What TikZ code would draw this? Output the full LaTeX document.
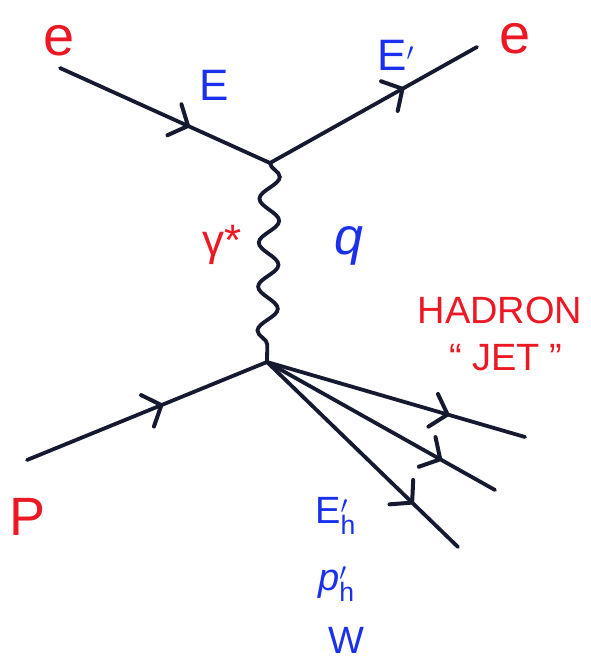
\documentclass[tikz,border=0pt]{standalone}
\usepackage{fontspec}
\setmainfont{Liberation Sans}
\usepackage{tikz}
\usetikzlibrary{arrows.meta, decorations.markings, decorations.pathmorphing}

\definecolor{ink}{RGB}{22,26,48}
\definecolor{penred}{RGB}{236,24,36}
\definecolor{penblue}{RGB}{26,48,236}

\begin{document}
\begin{tikzpicture}[
    x=1pt, y=-1pt,
    line/.style={
        line width=3.8pt,
        draw=ink,
        line cap=round
    },
    fermion/.style={
        line,
        postaction={decorate},
        decoration={
            markings,
            mark=at position #1 with {\draw[ink, line width=4pt, line cap=round, line join=miter] (-15pt,17pt) -- (0pt,0pt) -- (-15pt,-17pt);}
        }
    },
    fermion/.default=0.6,
    photon/.style={
        line,
        decorate,
        decoration={snake, amplitude=10pt, segment length=44pt}
    },
    redlbl/.style={
        text=penred,
        inner sep=0pt
    },
    bluelbl/.style={
        text=penblue,
        inner sep=0pt
    }
]
\useasboundingbox (0,0) rectangle (590,662);

% vertices and free ends
\coordinate (vtop) at (270,163);
\coordinate (vbot) at (267,362);
\coordinate (eA) at (60,68);
\coordinate (eB) at (477,47);
\coordinate (pA) at (27,460);
\coordinate (j1) at (525,437);
\coordinate (j2) at (495,490);
\coordinate (j3) at (458,547);

% electron line
\draw[fermion=0.61] (eA) -- (vtop);
\draw[fermion=0.64] (vtop) -- (eB);

% exchanged photon
\draw[photon] (vtop) -- (vbot);

% proton and jet
\draw[fermion=0.56] (pA) -- (vbot);
\foreach \j/\pos in {j1/0.70, j2/0.76, j3/0.76} {
    \draw[fermion=\pos] (vbot) -- (\j);
}

% labels
\node[redlbl, font=\fontsize{56}{56}\selectfont, anchor=base] (eInLbl) at (59,55) {e};
\node[redlbl, font=\fontsize{56}{56}\selectfont, anchor=base] (eOutLbl) at (515,53) {e};
\node[bluelbl, font=\fontsize{44}{44}\selectfont, anchor=base west] (ELbl) at (199,100) {E};
\node[bluelbl, font=\fontsize{44}{44}\selectfont, anchor=base west] (EpLbl) at (377,70) {E$'$};
\node[redlbl, font=\fontsize{44}{44}\selectfont] (gammaLbl) at (222,245) {γ*};
\node[bluelbl, font=\fontsize{52}{52}\selectfont\itshape] (qLbl) at (349,246) {q};
\node[redlbl, font=\fontsize{38}{38}\selectfont, anchor=base] (hadronLbl) at (500,323) {HADRON};
\node[redlbl, font=\fontsize{38}{38}\selectfont, anchor=base] (jetLbl) at (506,370) {“\hspace{10pt}JET\hspace{10pt}”};
\node[redlbl, font=\fontsize{54}{54}\selectfont, anchor=base] (pLbl) at (28,535) {P};
\node[bluelbl, font=\fontsize{38}{38}\selectfont, anchor=base west] (EhLbl) at (315,523) {$\mathrm{E}'_{\mathrm{h}}$};
\node[bluelbl, font=\fontsize{38}{38}\selectfont, anchor=base west] (phLbl) at (318,590) {$\mathit{p}'_{\mathrm{h}}$};
\node[bluelbl, font=\fontsize{38}{38}\selectfont, anchor=base west] (WLbl) at (328,653) {W};

\end{tikzpicture}
\end{document}
